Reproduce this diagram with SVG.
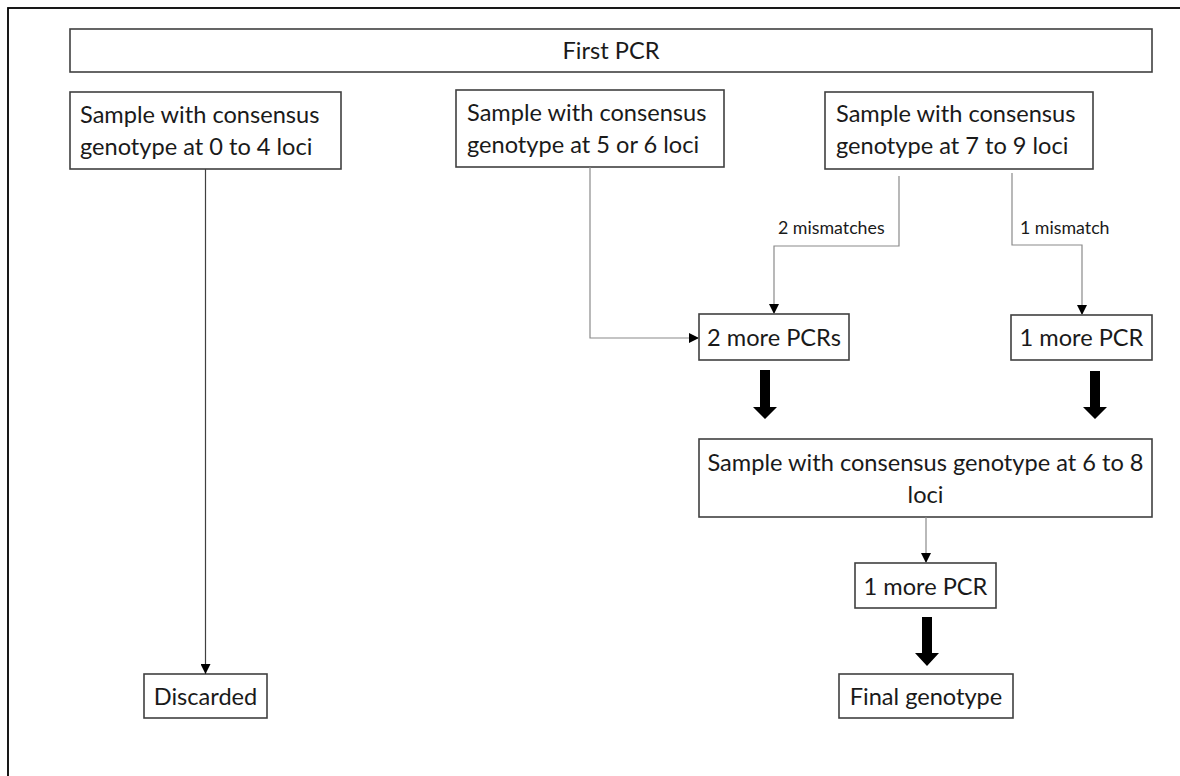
<svg xmlns="http://www.w3.org/2000/svg" width="1180" height="776" viewBox="0 0 1180 776">
<style>
.box{fill:#fff;stroke:#404040;stroke-width:1.6}
.t{font-family:Lato,"Liberation Sans",sans-serif;font-size:23.6px;fill:#1a1a1a}
.s{font-family:Lato,"Liberation Sans",sans-serif;font-size:17.8px;fill:#1a1a1a}
.c{fill:none;stroke:#8a8a8a;stroke-width:1.2}
.cd{fill:none;stroke:#404040;stroke-width:1.2}
.big{fill:#000}
</style>
<defs>
<marker id="ah" viewBox="0 0 10 10" refX="10" refY="5" markerWidth="10" markerHeight="10" markerUnits="userSpaceOnUse" orient="auto">
<path d="M0,0 L10,5 L0,10 z" fill="#000"/>
</marker>
</defs>
<rect x="8" y="8" width="1190" height="790" fill="#fff" stroke="#000" stroke-width="1.8"/>
<g id="first-pcr"><rect class="box" x="70" y="29" width="1082" height="43"/><text class="t" x="611" y="59" text-anchor="middle">First PCR</text></g>
<g id="s04"><rect class="box" x="70" y="92" width="271" height="77"/><text class="t" x="80" y="123">Sample with consensus</text><text class="t" x="80" y="155">genotype at 0 to 4 loci</text></g>
<g id="s56"><rect class="box" x="456" y="90" width="268" height="77"/><text class="t" x="467" y="121">Sample with consensus</text><text class="t" x="467" y="153">genotype at 5 or 6 loci</text></g>
<g id="s79"><rect class="box" x="825" y="92" width="268" height="77"/><text class="t" x="836" y="122">Sample with consensus</text><text class="t" x="836" y="154">genotype at 7 to 9 loci</text></g>
<g id="pcr2"><rect class="box" x="699" y="314" width="150" height="46"/><text class="t" x="774" y="346" text-anchor="middle">2 more PCRs</text></g>
<g id="pcr1a"><rect class="box" x="1011" y="315" width="141" height="45"/><text class="t" x="1081.5" y="346" text-anchor="middle">1 more PCR</text></g>
<g id="s68"><rect class="box" x="699" y="439" width="453" height="78"/><text class="t" x="925.5" y="471" text-anchor="middle">Sample with consensus genotype at 6 to 8</text><text class="t" x="925.5" y="503" text-anchor="middle">loci</text></g>
<g id="pcr1b"><rect class="box" x="855" y="563" width="141" height="45"/><text class="t" x="925.5" y="595" text-anchor="middle">1 more PCR</text></g>
<g id="final"><rect class="box" x="839" y="674" width="174" height="44"/><text class="t" x="926" y="705" text-anchor="middle">Final genotype</text></g>
<g id="discarded"><rect class="box" x="144" y="674" width="123" height="44"/><text class="t" x="205.5" y="705" text-anchor="middle">Discarded</text></g>
<g id="connectors">
<path class="cd" d="M205.5,169 V674" marker-end="url(#ah)"/>
<path class="c" d="M590,167 V338 H699" marker-end="url(#ah)"/>
<path class="c" d="M899,176 V246 H774 V314" marker-end="url(#ah)"/>
<path class="c" d="M1012,173 V245 H1082 V315" marker-end="url(#ah)"/>
<path class="c" d="M926,517 V563" marker-end="url(#ah)"/>
<text class="s" x="778" y="234">2 mismatches</text>
<text class="s" x="1020" y="234">1 mismatch</text>
<path class="big" d="M760,370 H770 V407 H777 L765,419 L753,407 H760 z"/>
<path class="big" d="M1090,371 H1100 V407 H1107 L1095,419 L1083,407 H1090 z"/>
<path class="big" d="M922,617 H932 V653 H939 L927,666 L915,653 H922 z"/>
</g>
</svg>
